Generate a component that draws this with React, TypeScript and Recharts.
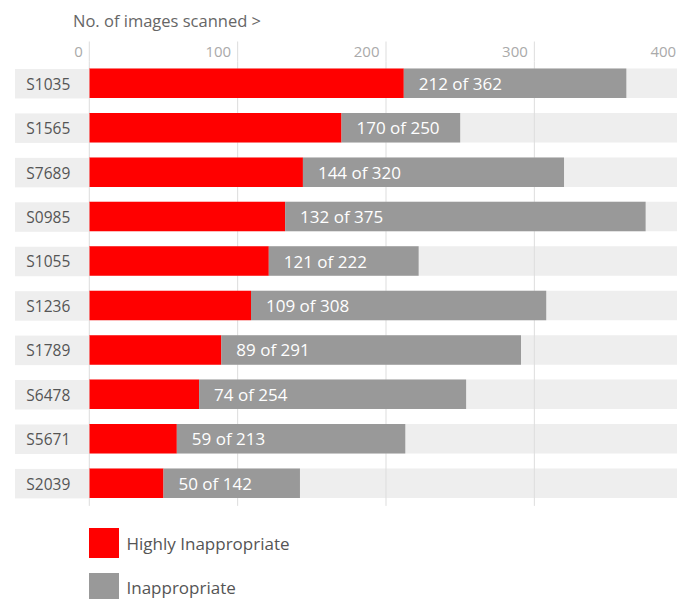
import React from 'react';
import { BarChart, Bar, XAxis, YAxis, CartesianGrid, LabelList, Legend } from 'recharts';

const categories = ['S1035', 'S1565', 'S7689', 'S0985', 'S1055', 'S1236', 'S1789', 'S6478', 'S5671', 'S2039'];
const highlyInappropriate = [212, 170, 144, 132, 121, 109, 89, 74, 59, 50];
const totalScanned = [362, 250, 320, 375, 222, 308, 291, 254, 213, 142];
const xTicks = [0, 100, 200, 300, 400];
const seriesNames = ['Highly Inappropriate', 'Inappropriate'];
const seriesColors = ['#ff0000', '#999999'];
const axisTitle = 'No. of images scanned >';

const data = categories.map((id, i) => ({
  id,
  highly: highlyInappropriate[i],
  rest: totalScanned[i] - highlyInappropriate[i],
  total: totalScanned[i],
  label: `${highlyInappropriate[i]} of ${totalScanned[i]}`,
}));

const FONT = "'Open Sans', sans-serif";
const BAR = 29.5;

const XTick = (props: any) => {
  const { x, y, payload } = props;
  return (
    <text x={x - 6.5} y={y + 15.5} textAnchor="end" fill="#aaaaaa" fontSize={15} fontFamily={FONT}>
      {payload.value}
    </text>
  );
};

const YTick = (props: any) => {
  const { x, y, payload } = props;
  return (
    <g>
      <rect x={x - 74.3} y={y - BAR / 2} width={74.3} height={BAR} fill="#eeeeee" />
      <text x={x - 63} y={y} dominantBaseline="central" fill="#555555" fontSize={15.5} fontFamily={FONT}>
        {payload.value}
      </text>
    </g>
  );
};

const BarLabel = (props: any) => {
  const { x, y, height, value } = props;
  return (
    <text
      x={Number(x) + 15}
      y={Number(y) + Number(height) / 2}
      dominantBaseline="central"
      fill="#ffffff"
      fontSize={17}
      fontFamily={FONT}
    >
      {value}
    </text>
  );
};

const TitleLabel = (props: any) => {
  const vb = props.viewBox || { x: 89.3, y: 41.5 };
  return (
    <text x={vb.x - 16.3} y={vb.y - 15} fill="#666666" fontSize={16.5} fontFamily={FONT}>
      {axisTitle}
    </text>
  );
};

const LegendContent = () => (
  <div style={{ fontFamily: FONT }}>
    {seriesNames.map((name, i) => (
      <div key={name} style={{ display: 'flex', alignItems: 'center', height: BAR, marginBottom: 14.9 }}>
        <div style={{ width: BAR, height: BAR, background: seriesColors[i] }} />
        <span style={{ marginLeft: 8, fontSize: 17, color: '#555555' }}>{name}</span>
      </div>
    ))}
  </div>
);

export default function App() {
  return (
    <div
      style={{
        position: 'absolute',
        left: 0,
        top: 0,
        width: 677,
        height: 599,
        overflow: 'hidden',
        background: '#ffffff',
      }}
    >
      <BarChart
        width={700}
        height={599}
        data={data}
        layout="vertical"
        margin={{ top: 41.5, right: 17.3, bottom: 93.1, left: 0 }}
        barSize={BAR}
      >
        <XAxis
          type="number"
          orientation="top"
          domain={[0, 400]}
          ticks={xTicks}
          interval={0}
          height={20}
          tickSize={20}
          tickMargin={0}
          axisLine={false}
          tickLine={{ stroke: '#dddddd' }}
          tick={<XTick />}
          label={<TitleLabel />}
        />
        <YAxis
          yAxisId="main"
          type="category"
          dataKey="id"
          width={89.3}
          tickSize={0}
          tickMargin={0}
          axisLine={false}
          tickLine={false}
          tick={<YTick />}
          interval={0}
        />
        <YAxis yAxisId="bg" type="category" dataKey="id" width={0} hide />
        <Bar
          yAxisId="bg"
          dataKey="total"
          fill="none"
          background={{ fill: '#eeeeee' }}
          legendType="none"
          isAnimationActive={false}
        />
        <CartesianGrid horizontal={false} stroke="#dddddd" yAxisId="main" {...({ zIndex: -10 } as any)} />
        <Bar
          yAxisId="main"
          dataKey="highly"
          name={seriesNames[0]}
          stackId="a"
          fill={seriesColors[0]}
          isAnimationActive={false}
        />
        <Bar
          yAxisId="main"
          dataKey="rest"
          name={seriesNames[1]}
          stackId="a"
          fill={seriesColors[1]}
          isAnimationActive={false}
        >
          <LabelList dataKey="label" content={<BarLabel />} />
        </Bar>
        <Legend
          layout="vertical"
          align="center"
          verticalAlign="middle"
          wrapperStyle={{ left: 89, top: 528.3, width: 300, height: 80 }}
          content={<LegendContent />}
        />
      </BarChart>
    </div>
  );
}
